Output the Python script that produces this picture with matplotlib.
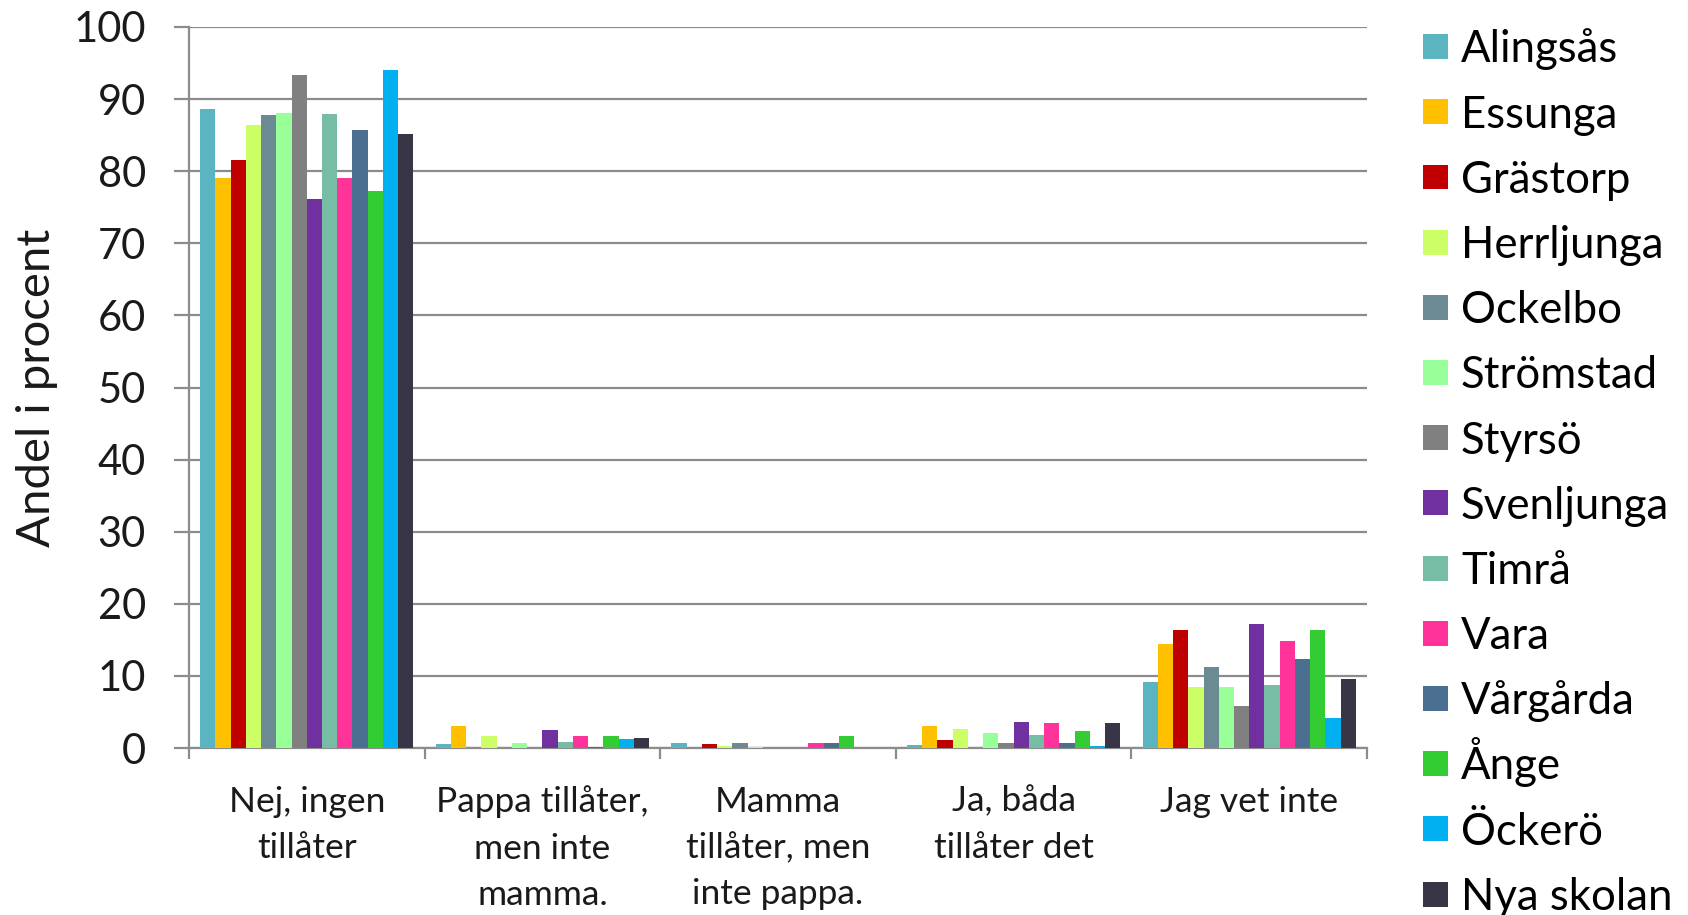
import matplotlib
matplotlib.use("Agg")
import matplotlib.pyplot as plt
import numpy as np
from matplotlib.patches import Patch, Rectangle
from matplotlib.legend_handler import HandlerPatch

plt.rcParams['font.family'] = ['Lato', 'DejaVu Sans']

categories = ["Nej, ingen\ntillåter", "Pappa tillåter,\nmen inte\nmamma.",
              "Mamma\ntillåter, men\ninte pappa.", "Ja, båda\ntillåter det", "Jag vet inte"]

series_names = ["Alingsås", "Essunga", "Grästorp", "Herrljunga", "Ockelbo", "Strömstad",
                "Styrsö", "Svenljunga", "Timrå", "Vara", "Vårgårda", "Ånge", "Öckerö", "Nya skolan"]

colors = ["#5BB5C0", "#FFC000", "#C00000", "#CCFF66", "#6B8A93", "#99FF99",
          "#808080", "#7030A0", "#77BDA6", "#FF3399", "#4A6F91", "#33CC33", "#00B0F0", "#383546"]

alingsas   = [88.6, 0.6, 0.65, 0.45, 9.1]
essunga    = [79.0, 3.1, 0.0, 3.1, 14.4]
grastorp   = [81.6, 0.0, 0.6, 1.1, 16.3]
herrljunga = [86.4, 1.6, 0.25, 2.7, 8.5]
ockelbo    = [87.8, 0.0, 0.75, 0.0, 11.3]
stromstad  = [88.1, 0.65, 0.2, 2.1, 8.5]
styrso     = [93.3, 0.0, 0.0, 0.65, 5.8]
svenljunga = [76.2, 2.5, 0.0, 3.6, 17.2]
timra      = [87.9, 0.8, 0.0, 1.8, 8.8]
vara       = [79.0, 1.6, 0.75, 3.4, 14.8]
vargarda   = [85.7, 0.2, 0.65, 0.65, 12.3]
ange       = [77.3, 1.7, 1.7, 2.4, 16.3]
ockero     = [94.0, 1.2, 0.0, 0.3, 4.2]
nya_skolan = [85.1, 1.4, 0.0, 3.5, 9.6]

values = [alingsas, essunga, grastorp, herrljunga, ockelbo, stromstad, styrso,
          svenljunga, timra, vara, vargarda, ange, ockero, nya_skolan]

yticks = [0, 10, 20, 30, 40, 50, 60, 70, 80, 90, 100]

fig = plt.figure(figsize=(16.88, 9.15), dpi=100)
ax = fig.add_axes([189/1688, 1 - 748/915, (1367-189)/1688, (748-27)/915])

n = len(series_names)
x = np.arange(len(categories))
group_w = 0.905
bw = group_w / n
for i, (name, vals, c) in enumerate(zip(series_names, values, colors)):
    ax.bar(x - group_w/2 + bw*(i + 0.5), vals, width=bw, color=c, zorder=3, label=name)

grid_c = "#8C8C8C"
txt_c = "#1A1A1A"
ax.set_ylim(0, 100)
ax.set_xlim(-0.5, len(categories) - 0.5)
ax.set_yticks(yticks)
ax.yaxis.grid(True, color=grid_c, linewidth=1.6, zorder=0)
ax.set_axisbelow(True)
for s in ["top", "right"]:
    ax.spines[s].set_visible(False)
for s in ["left", "bottom"]:
    ax.spines[s].set_color(grid_c)
    ax.spines[s].set_linewidth(1.6)

ax.tick_params(axis='y', length=11, width=1.6, color=grid_c, labelsize=30, pad=20,
               labelcolor=txt_c)
ax.set_xticks(x)
ax.set_xticklabels(categories, fontsize=25.5, linespacing=1.55, color=txt_c)
ax.tick_params(axis='x', which='major', length=0, pad=27)
ax.set_xticks(np.arange(-0.5, len(categories)), minor=True)
ax.tick_params(axis='x', which='minor', length=8, width=1.6, color=grid_c)

ax.set_ylabel("Andel i procent", fontsize=34, color=txt_c)
ax.yaxis.set_label_coords(-0.111, 0.5)


def square_patch(legend, orig_handle, xdescent, ydescent, width, height, fontsize):
    s = 0.57 * fontsize
    y0 = 0.36 * fontsize - s / 2
    return Rectangle((-xdescent, y0), s, s)


handles = [Patch(facecolor=c, edgecolor='none') for c in colors]
fig.legend(handles, series_names, loc='upper left', bbox_to_anchor=(1423/1688, 1 - 16/915),
           frameon=False, fontsize=31.5, handlelength=0.57, handleheight=1.9,
           handletextpad=0.3, labelspacing=0.01, borderaxespad=0, borderpad=0,
           handler_map={Patch: HandlerPatch(patch_func=square_patch)})

fig.savefig("out.png", dpi=100)
